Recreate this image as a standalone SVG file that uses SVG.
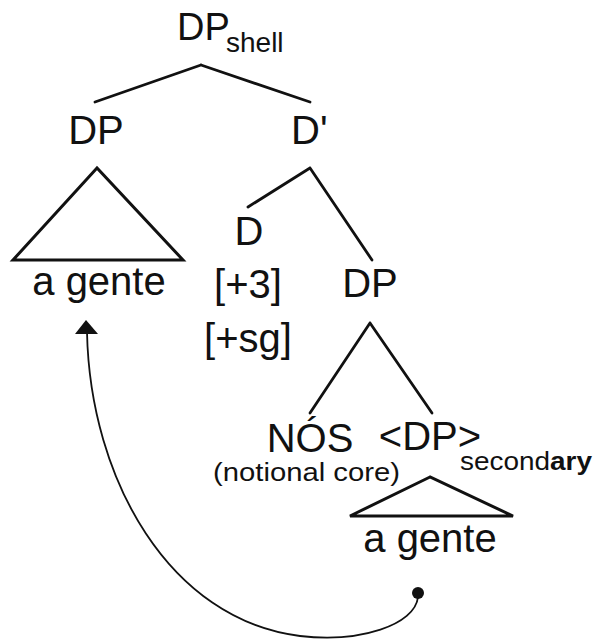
<svg xmlns="http://www.w3.org/2000/svg" width="595" height="639" viewBox="0 0 595 639">
<defs>
<style>
.t{font-family:"Liberation Sans",Arial,sans-serif;fill:#111;}
.lg{font-size:40px;}
.sm{font-size:28px;}
.xs{font-size:26px;}
.e{stroke:#111;stroke-width:2.8;fill:none;stroke-linecap:round;stroke-linejoin:round;}
.tri{stroke:#111;stroke-width:3;fill:none;stroke-linejoin:miter;}
.mv{stroke:#111;stroke-width:1.8;fill:none;}
</style>
</defs>
<rect width="595" height="639" fill="#fff"/>
<g id="connectors">
<path class="e" d="M201 65 L95 102 M201 65 L310 102"/>
<path class="e" d="M310 168 L248 207 M310 168 L372 260"/>
<path class="e" d="M370 323 L310 413 M370 323 L432 413"/>
<path class="mv" d="M87 332 C90 480 170 620 300 636 C360 643 415 625 418 597"/>
<polygon points="86,320 75,334 98,334" fill="#111"/>
<circle cx="418" cy="593" r="6" fill="#111"/>
</g>
<g id="dp-shell">
<text class="t" x="177" y="40" font-size="38">DP</text>
<text class="t sm" x="226" y="52">shell</text>
</g>
<g id="dp-left">
<text class="t lg" x="96" y="144" text-anchor="middle">DP</text>
<polygon class="tri" points="97,168 13,260 183,260"/>
</g>
<g id="a-gente-left">
<text class="t lg" x="99" y="295" text-anchor="middle">a gente</text>
</g>
<g id="d-bar">
<text class="t lg" x="291" y="144">D'</text>
</g>
<g id="d-head">
<text class="t lg" x="249" y="245" text-anchor="middle">D</text>
<text class="t lg" x="248" y="298" text-anchor="middle">[+3]</text>
<text class="t lg" x="248" y="352" text-anchor="middle">[+sg]</text>
</g>
<g id="dp-right">
<text class="t lg" x="370" y="297" text-anchor="middle">DP</text>
</g>
<g id="nos">
<text class="t lg" x="310" y="452" text-anchor="middle">NÓS</text>
<text class="t xs" x="213" y="481" textLength="187" lengthAdjust="spacingAndGlyphs">(notional core)</text>
</g>
<g id="dp-secondary">
<text class="t lg" x="430" y="450" text-anchor="middle">&lt;DP&gt;</text>
<text class="t xs" x="460" y="470" textLength="132" lengthAdjust="spacingAndGlyphs">second<tspan font-weight="bold">ary</tspan></text>
<polygon class="tri" points="430,477 350,516 513,516"/>
</g>
<g id="a-gente-right">
<text class="t lg" x="430" y="552" text-anchor="middle">a gente</text>
</g>
</svg>
